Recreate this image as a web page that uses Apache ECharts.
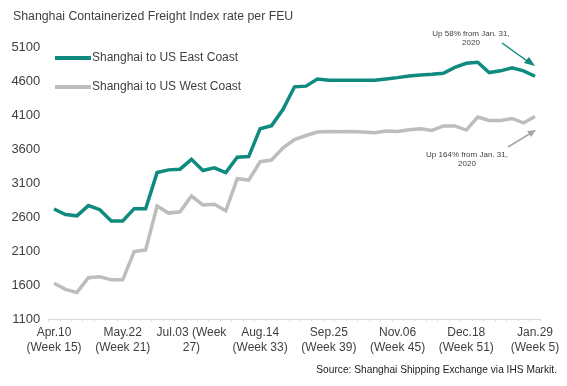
<!DOCTYPE html>
<html>
<head>
<meta charset="utf-8">
<script src="https://cdn.jsdelivr.net/npm/echarts@6/dist/echarts.min.js"></script>
<style>html,body{margin:0;padding:0;background:#fff}#c{width:567px;height:386px}</style>
</head>
<body>
<div id="c"></div>
<script>
var categories = ["Apr.10","Apr.17","Apr.24","May.01","May.08","May.15","May.22","May.29","Jun.05","Jun.12","Jun.19","Jun.26","Jul.03","Jul.10","Jul.17","Jul.24","Jul.31","Aug.07","Aug.14","Aug.21","Aug.28","Sep.04","Sep.11","Sep.18","Sep.25","Oct.02","Oct.09","Oct.16","Oct.23","Oct.30","Nov.06","Nov.13","Nov.20","Nov.27","Dec.04","Dec.11","Dec.18","Dec.25","Jan.01","Jan.08","Jan.15","Jan.22","Jan.29"];
var tickLabels = ["Apr.10\n(Week 15)","May.22\n(Week 21)","Jul.03 (Week\n27)","Aug.14\n(Week 33)","Sep.25\n(Week 39)","Nov.06\n(Week 45)","Dec.18\n(Week 51)","Jan.29\n(Week 5)"];
var eastCoast = [2720,2640,2620,2770,2710,2545,2545,2725,2725,3255,3295,3305,3450,3285,3325,3255,3480,3490,3900,3945,4185,4515,4525,4630,4610,4610,4610,4610,4610,4630,4650,4675,4690,4700,4715,4800,4860,4875,4725,4750,4795,4750,4670];
var westCoast = [1630,1540,1495,1710,1725,1680,1680,2095,2120,2765,2660,2680,2910,2780,2790,2695,3165,3145,3415,3440,3620,3740,3800,3850,3860,3855,3860,3850,3840,3865,3860,3885,3900,3875,3940,3940,3880,4070,4020,4020,4050,3985,4080];
var seriesNames = ["Shanghai to US East Coast","Shanghai to US West Coast"];
var yTicks = {min:1100, max:5100, step:500};
var teal = "#0e8a7e", grey = "#bdbdbd", txt = "#3f3f3f";
var font = "Liberation Sans, Arial, sans-serif";

var chart = echarts.init(document.getElementById('c'), null, {renderer:'canvas'});
chart.setOption({
  animation:false,
  backgroundColor:'#fff',
  title:{text:"Shanghai Containerized Freight Index rate per FEU", left:8, top:6,
    textStyle:{fontFamily:font, fontSize:12.3, fontWeight:'normal', color:txt}},
  legend:{orient:'vertical', left:50, top:47, itemWidth:36, itemHeight:4, itemGap:17,
    icon:'rect', textStyle:{fontFamily:font, fontSize:12, color:txt, padding:[0,0,0,-4]},
    data:seriesNames},
  grid:{left:48.3, right:26.3, top:47, bottom:66.7},
  xAxis:{type:'category', data:categories, boundaryGap:true,
    axisLine:{lineStyle:{color:'#d9d9d9', width:1}},
    axisTick:{show:true, length:2, interval:0, lineStyle:{color:'#d9d9d9'}},
    axisLabel:{interval:5, margin:6, fontFamily:font, fontSize:12, color:txt, lineHeight:15,
      formatter:function(v, i){ return tickLabels[i/6] || ''; }}},
  yAxis:{type:'value', min:yTicks.min, max:yTicks.max, interval:yTicks.step,
    axisLine:{show:false}, axisTick:{show:false}, splitLine:{show:false},
    axisLabel:{margin:8, fontFamily:font, fontSize:13, color:txt,
      formatter:function(v){ return String(v); }}},
  series:[
    {name:seriesNames[0], type:'line', data:eastCoast, symbol:'none', color:teal,
      lineStyle:{width:3.5, color:teal, join:'miter'}},
    {name:seriesNames[1], type:'line', data:westCoast, symbol:'none', color:grey,
      lineStyle:{width:3.5, color:grey, join:'miter'}}
  ],
  graphic:[
    {type:'text', style:{text:"Up 58% from Jan. 31,\n2020", x:471, y:29, align:'center',
      fontFamily:font, fontSize:8, lineHeight:9, fill:txt}},
    {type:'line', shape:{x1:502, y1:43, x2:530, y2:63}, style:{stroke:teal, lineWidth:1.5}},
    {type:'polygon', shape:{points:[[535,66],[524,63],[529,57]]}, style:{fill:teal}},
    {type:'text', style:{text:"Up 164% from Jan. 31,\n2020", x:467, y:150, align:'center',
      fontFamily:font, fontSize:8, lineHeight:9, fill:txt}},
    {type:'line', shape:{x1:508, y1:147, x2:531, y2:133}, style:{stroke:'#a6a6a6', lineWidth:1.5}},
    {type:'polygon', shape:{points:[[536,130],[527,131],[531,137]]}, style:{fill:'#a6a6a6'}},
    {type:'text', style:{text:"Source: Shanghai Shipping Exchange via IHS Markit.", x:557, y:365, align:'right',
      fontFamily:font, fontSize:10.2, fill:'#222'}}
  ]
});
</script>
</body>
</html>
